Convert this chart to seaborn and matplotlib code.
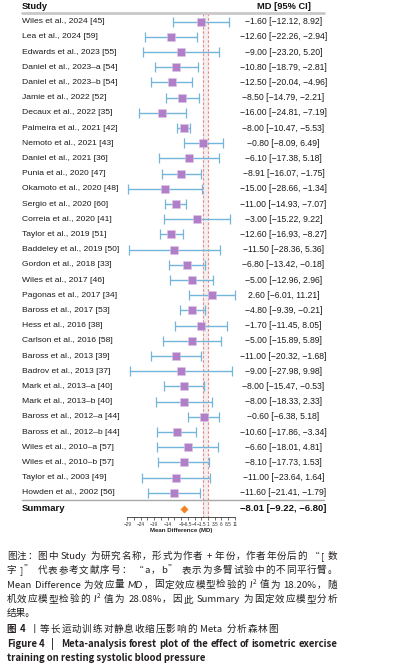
import re
import numpy as np
import pandas as pd
import matplotlib
matplotlib.use("Agg")
import matplotlib.pyplot as plt
import matplotlib.transforms as mtransforms
from matplotlib.font_manager import FontProperties
import seaborn as sns

# ---------------------------------------------------------------------------
# Data
# ---------------------------------------------------------------------------
studies = [
    "Wiles et al., 2024 [45]", "Lea et al., 2024 [59]", "Edwards et al., 2023 [55]",
    "Daniel et al., 2023\u2013a [54]", "Daniel et al., 2023\u2013b [54]",
    "Jamie et al., 2022 [52]", "Decaux et al., 2022 [35]", "Palmeira et al., 2021 [42]",
    "Nemoto et al., 2021 [43]", "Daniel et al., 2021 [36]", "Punia et al., 2020 [47]",
    "Okamoto et al., 2020 [48]", "Sergio et al., 2020 [60]", "Correia et al., 2020 [41]",
    "Taylor et al., 2019 [51]", "Baddeley et al., 2019 [50]", "Gordon et al., 2018 [33]",
    "Wiles et al., 2017 [46]", "Pagonas et al., 2017 [34]", "Baross et al., 2017 [53]",
    "Hess et al., 2016 [38]", "Carlson et al., 2016 [58]", "Baross et al., 2013 [39]",
    "Badrov et al., 2013 [37]", "Mark et al., 2013\u2013a [40]", "Mark et al., 2013\u2013b [40]",
    "Baross et al., 2012\u2013a [44]", "Baross et al., 2012\u2013b [44]",
    "Wiles et al., 2010\u2013a [57]", "Wiles et al., 2010\u2013b [57]",
    "Taylor et al., 2003 [49]", "Howden et al., 2002 [56]",
]
md = [-1.60, -12.60, -9.00, -10.80, -12.50, -8.50, -16.00, -8.00, -0.80, -6.10,
      -8.91, -15.00, -11.00, -3.00, -12.60, -11.50, -6.80, -5.00, 2.60, -4.80,
      -1.70, -5.00, -11.00, -9.00, -8.00, -8.00, -0.60, -10.60, -6.60, -8.10,
      -11.00, -11.60]
ci_low = [-12.12, -22.26, -23.20, -18.79, -20.04, -14.79, -24.81, -10.47, -8.09, -17.38,
          -16.07, -28.66, -14.93, -15.22, -16.93, -28.36, -13.42, -12.96, -6.01, -9.39,
          -11.45, -15.89, -20.32, -27.98, -15.47, -18.33, -6.38, -17.86, -18.01, -17.73,
          -23.64, -21.41]
ci_high = [8.92, -2.94, 5.20, -2.81, -4.96, -2.21, -7.19, -5.53, 6.49, 5.18,
           -1.75, -1.34, -7.07, 9.22, -8.27, 5.36, -0.18, 2.96, 11.21, -0.21,
           8.05, 5.89, -1.68, 9.98, -0.53, 2.33, 5.18, -3.34, 4.81, 1.53,
           1.64, -1.79]
summary_md, summary_low, summary_high = -8.01, -9.22, -6.80

tick_values = [-29, -26.5, -24, -21.5, -19, -16.5, -14, -11.5, -9, -6.5, -4,
               -1.5, 1, 3.5, 6, 8.5, 11]
tick_labels = ["\u221229", "", "\u221224", "", "\u221219", "", "\u221214", "",
               "\u22129", "\u22126.5", "\u22124", "\u22121.5", "1", "3.5", "6",
               "8.5", "11"]

# caption: (segments, justify-to x in px or None, centre y in px)
# segment styles: n normal, b bold, i italic, s superscript
caption = [
    ([("图注：图中 Study 为研究名称，形式为作者 + 年份，作者年份后的 “[ 数", "n")], 337, 555.3),
    ([("字 ]” 代表参考文献序号： “a，b” 表示为多臂试验中的不同平行臂。", "n")], 337, 569.6),
    ([("Mean Difference 为效应量 ", "n"), ("MD", "i"), ("，固定效应模型检验的 ", "n"),
      ("I", "i"), ("2", "s"), (" 值为 18.20%，随", "n")], 337, 583.9),
    ([("机效应模型检验的 ", "n"), ("I", "i"), ("2", "s"),
      (" 值为 28.08%，因此 Summary 为固定效应模型分析", "n")], 337, 598.3),
    ([("结果。", "n")], None, 612.7),
    ([("图 4", "b"), (" 丨等长运动训练对静息收缩压影响的 Meta 分析森林图", "n")], 278, 628.3),
    ([("Figure 4   |   Meta-analysis forest plot of the effect of isometric exercise", "b")],
     337.5, 643.3),
    ([("training on resting systolic blood pressure", "b")], None, 657.8),
]


def fmt(v):
    return f"{v:.2f}".replace("-", "\u2212")


df = pd.DataFrame({"study": studies, "md": md, "low": ci_low, "high": ci_high})
df["row"] = np.arange(len(df))
df["label"] = [f"{fmt(m)} [{fmt(l)}, {fmt(h)}]" for m, l, h in zip(md, ci_low, ci_high)]

# ---------------------------------------------------------------------------
# Figure
# ---------------------------------------------------------------------------
sns.set_theme(style="white")
plt.rcParams["font.family"] = ["Liberation Sans", "DejaVu Sans"]

W, H = 394, 672
fig = plt.figure(figsize=(W / 100, H / 100), dpi=100)
ax = fig.add_axes([127.3 / W, 1 - 516.7 / H, 107.6 / W, 516.7 / H])
ax.set_xlim(-29, 11)
ax.set_ylim(32.57, -1.428)

# reference band + dashed lines
ax.fill_betweenx([-0.55, 32.57], -1, 1, color="#f4eeee", lw=0, zorder=0)
for xv in (-1, 1):
    ax.plot([xv, xv], [-0.55, 32.57], color="#ee8a8a", lw=0.8, ls=(0, (2.5, 1.5)),
            zorder=1, clip_on=False)

# confidence intervals
eb = ax.errorbar(df["md"], df["row"],
                 xerr=[df["md"] - df["low"], df["high"] - df["md"]],
                 fmt="none", ecolor="#72b6dc", elinewidth=1.0, capsize=3.4,
                 capthick=0.9, zorder=2)
for art in list(eb.lines[1]) + list(eb.lines[2]):
    art.set_clip_on(False)

sns.scatterplot(data=df, x="md", y="row", marker="s", s=32, color="#b07fc7",
                edgecolor="#dcc6e6", linewidth=0.4, ax=ax, zorder=3, legend=False,
                clip_on=False)
sns.scatterplot(x=[summary_md], y=[32.05], marker="D", s=14, color="#f5821f",
                edgecolor="#f5821f", ax=ax, zorder=3, legend=False, clip_on=False)

# axis styling
for side in ("top", "right", "left"):
    ax.spines[side].set_visible(False)
ax.spines["bottom"].set_color("#333333")
ax.spines["bottom"].set_linewidth(0.6)
ax.set_yticks([])
ax.set_xticks(tick_values)
ax.set_xticklabels(tick_labels)
ax.tick_params(axis="x", bottom=True, length=2.2, width=0.5, pad=1.5,
               labelsize=3.4, colors="#333333")
ax.set_xlabel("Mean Difference (MD)", fontsize=4.4, fontweight="bold",
              labelpad=0.5, color="#222222")
ax.set_ylabel("")
ax.patch.set_alpha(0)

# text columns
trans = mtransforms.blended_transform_factory(fig.transFigure, ax.transData)
name_x, val_x = 22 / W, 283.5 / W
ax.text(name_x, -0.97, "Study", transform=trans, ha="left", va="center",
        fontsize=6.7, fontweight="bold", color="#111111")
ax.text(val_x, -0.97, "MD [95% CI]", transform=trans, ha="center", va="center",
        fontsize=6.7, fontweight="bold", color="#111111")
for _, r in df.iterrows():
    ax.text(name_x, r["row"], r["study"], transform=trans, ha="left", va="center",
            fontsize=6.1, color="#1a1a1a")
    ax.text(val_x, r["row"], r["label"], transform=trans, ha="center", va="center",
            fontsize=6.2, color="#1a1a1a")
ax.text(name_x, 32.05, "Summary", transform=trans, ha="left", va="center",
        fontsize=6.8, fontweight="bold", color="#111111")
ax.text(val_x, 32.05, f"{fmt(summary_md)} [{fmt(summary_low)}, {fmt(summary_high)}]",
        transform=trans, ha="center", va="center", fontsize=6.8, fontweight="bold",
        color="#111111")

# separator lines
ax.plot([name_x, 324 / W], [-0.55, -0.55], transform=trans, color="#c9c9c9",
        lw=2.0, clip_on=False)
ax.plot([name_x, 324 / W], [31.5, 31.5], transform=trans, color="#a8a8a8",
        lw=1.0, clip_on=False)

# ---------------------------------------------------------------------------
# Caption: drawn token by token so lines can be justified like the print layout
# ---------------------------------------------------------------------------
cap_font = ["Noto Sans CJK SC", "DejaVu Sans"]
props = {
    "n": FontProperties(family=cap_font, size=6.9),
    "b": FontProperties(family=cap_font, size=6.9, weight="bold"),
    "i": FontProperties(family=["Lato", "DejaVu Sans"], size=7.0, style="italic"),
    "s": FontProperties(family=cap_font, size=4.6),
}
renderer = fig.canvas.get_renderer()


def advance(c, prop):
    w1 = renderer.get_text_width_height_descent("X" + c + "X", prop, ismath=False)[0]
    w0 = renderer.get_text_width_height_descent("XX", prop, ismath=False)[0]
    return w1 - w0


x0 = 6.7
for segments, x_end, yc in caption:
    tokens = []
    for text, st in segments:
        if x_end is None:
            tokens.append((text, st))
        else:
            tokens += [(t, st) for t in re.findall(r"[A-Za-z0-9.%\-+|]+|.", text)]
    widths = [advance(t, props[st]) for t, st in tokens]
    gap = 0.0
    if x_end is not None and len(tokens) > 1:
        gap = (x_end - x0 - sum(widths)) / (len(tokens) - 1)
    x = x0
    base = yc + 3.6
    for (t, st), w in zip(tokens, widths):
        yb = base - 3.4 if st == "s" else base
        fig.text(x / W, 1 - yb / H, t, fontproperties=props[st], ha="left",
                 va="baseline", color="#231f20")
        x += w + gap

fig.savefig("out.png", dpi=100)
plt.close(fig)
